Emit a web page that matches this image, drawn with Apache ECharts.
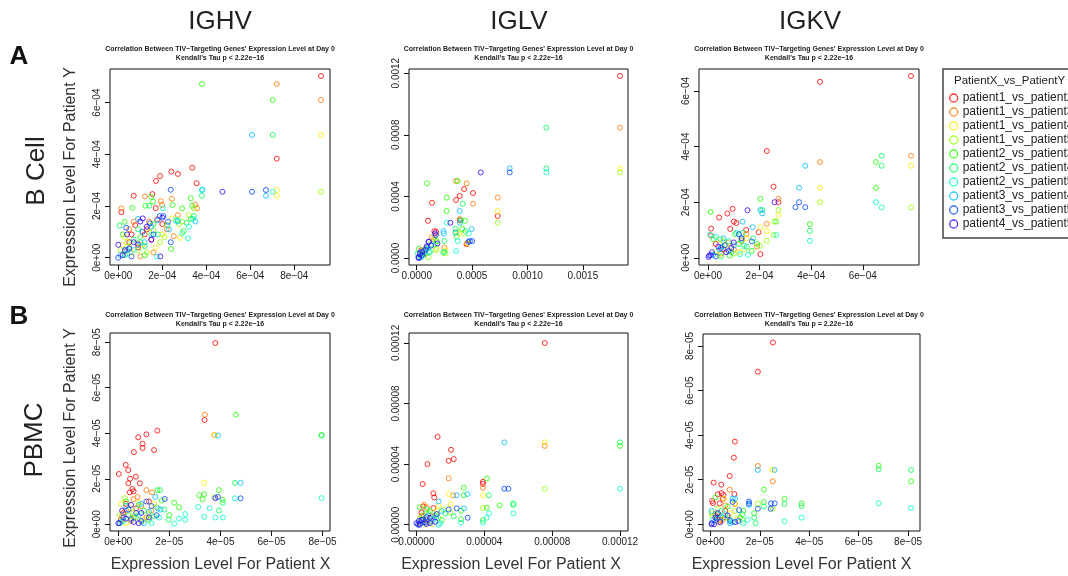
<!DOCTYPE html>
<html>
<head>
<meta charset="utf-8">
<script src="https://cdn.jsdelivr.net/npm/echarts@6/dist/echarts.min.js"></script>
<style>html,body{margin:0;padding:0;background:#fff;}#chart{width:1068px;height:576px;}</style>
</head>
<body>
<div id="chart"></div>
<script>
// ---------------- DATA ----------------
const seriesNames = ['patient1_vs_patient2','patient1_vs_patient3','patient1_vs_patient4','patient1_vs_patient5',
  'patient2_vs_patient3','patient2_vs_patient4','patient2_vs_patient5','patient3_vs_patient4','patient3_vs_patient5','patient4_vs_patient5'];
const columnHeaders = ['IGHV','IGLV','IGKV'];
const rowHeaders = ['B Cell','PBMC'];
const titleLine1 = 'Correlation Between TIV\u2212Targeting Genes\' Expression Level at Day 0';
const titleLine2 = ['Kendall\'s Tau p < 2.22e\u221216','Kendall\'s Tau p < 2.22e\u221216','Kendall\'s Tau p < 2.22e\u221216',
  'Kendall\'s Tau p < 2.22e\u221216','Kendall\'s Tau p < 2.22e\u221216','Kendall\'s Tau p = 2.22e\u221216'];

// B cell IGHV, values in units of 1e-4 : [patientX, patientY], one list per series
const bCellIGHV = [
  [[9.21,7.03],[7.2,3.83],[3.36,3.48],[2.41,3.33],[2.71,3.24],[1.9,3.16],[1.71,2.97],[3.56,2.88],[0.7,2.4],[1.55,2.46],[1.7,1.92],[0.14,1.76],[0.77,1.26],[1.77,1.48],[1.2,0.9],[0.5,0.6],[0.9,0.4],[1.5,0.7],[0.3,0.25],[1.3,1.1],[2.0,1.3],[0.6,0.9]],
  [[7.2,6.72],[9.21,6.1],[1.21,2.37],[2.43,2.28],[1.93,2.19],[1.99,2.04],[0.14,1.91],[3.58,1.91],[2.71,1.65],[0.7,1.39],[2.52,0.83],[3.5,2.05],[1.4,1.4],[0.9,0.55],[1.6,0.2],[0.5,1.1],[2.2,1.1],[1.0,0.05]],
  [[9.21,4.75],[7.2,2.62],[7.2,2.4],[2.45,1.52],[2.8,0.77],[0.3,0.8],[1.1,0.5],[1.7,0.4],[0.6,0.2],[1.4,1.0],[2.0,0.9],[0.2,0.5]],
  [[9.21,2.55],[3.44,1.91],[3.21,1.65],[2.76,1.29],[0.4,0.6],[0.9,0.3],[1.6,1.05],[1.3,0.2],[2.1,0.8],[0.1,0.3],[2.9,1.4],[1.9,0.6]],
  [[3.8,6.72],[7.02,6.1],[3.29,2.3],[1.49,2.36],[1.58,2.17],[1.23,2.01],[2.47,2.04],[3.35,2.01],[0.64,1.93],[2.9,1.91],[0.29,1.39],[2.23,1.26],[2.97,1.03],[2.4,0.34],[1.0,0.8],[0.5,0.4],[1.6,1.3],[0.2,0.9],[1.2,0.1],[3.3,1.5]],
  [[7.02,4.75],[3.8,2.4],[1.41,2.01],[3.44,1.61],[0.06,1.24],[0.7,0.7],[1.8,0.9],[2.7,1.45],[1.2,0.45],[0.3,0.1],[3.1,1.35],[0.9,1.1]],
  [[7.02,2.55],[3.8,2.62],[3.21,1.2],[3.17,0.75],[1.75,0.05],[2.03,1.91],[0.4,0.15],[1.0,0.6],[3.4,1.5],[2.6,1.45],[1.5,0.9],[0.7,0.3],[2.9,0.95]],
  [[6.08,4.75],[6.71,2.4],[3.82,2.63],[0.9,1.5],[1.5,1.2],[2.3,1.1],[0.4,0.3],[1.2,0.6],[2.7,1.4],[0.1,0.1],[1.8,1.45],[3.5,1.4]],
  [[6.08,2.55],[6.71,2.62],[2.38,2.63],[1.88,1.61],[2.05,1.61],[1.43,1.33],[2.26,1.39],[2.38,0.6],[0.36,1.16],[0.3,0.3],[0.9,0.5],[0.0,0.0],[1.1,1.0],[0.6,0.05],[1.6,0.9]],
  [[4.73,2.55],[1.11,1.52],[1.91,0.05],[0.0,0.5],[0.4,0.9],[0.7,0.6],[1.3,1.2],[1.0,1.4],[0.2,0.1],[1.5,0.7],[0.5,0.35],[2.0,1.55]]
];
// B cell IGLV, units of 1e-4
const bCellIGLV = [
  [[18.35,11.82],[4.27,4.48],[5.08,4.22],[3.88,4.03],[3.55,3.77],[1.38,3.59],[7.31,2.73],[1.02,2.42],[1.6,1.75],[1.75,1.7],[4.5,0.9],[0.4,0.5],[0.8,0.3],[3.9,2.45]],
  [[18.35,8.46],[3.55,5.0],[4.51,4.85],[5.08,3.53],[7.31,3.92],[3.88,2.53],[1.35,1.34],[2.5,0.67],[4.55,0.95],[1.5,1.2],[0.6,0.5],[0.9,0.7]],
  [[18.35,5.82],[7.31,3.05],[4.57,0.99],[2.6,0.5],[1.8,0.6],[3.8,1.6],[0.5,0.3],[1.2,0.9]],
  [[18.35,5.56],[7.31,2.29],[1.06,0.05],[1.74,0.52],[3.6,1.7],[4.3,1.6],[0.3,0.1],[1.6,1.3],[2.6,0.3]],
  [[0.93,4.85],[3.7,5.0],[2.71,3.92],[2.71,3.05],[4.35,2.42],[2.4,0.35],[1.8,1.1],[3.6,1.4],[0.2,0.6],[0.8,0.55],[4.1,1.9]],
  [[11.7,8.46],[11.7,5.82],[4.15,3.53],[4.0,2.45],[3.5,1.9],[4.4,1.75],[0.6,0.2],[1.2,0.4],[2.5,1.1],[0.1,0.3],[1.7,0.9]],
  [[11.7,5.56],[2.71,2.29],[3.55,0.45],[4.7,1.6],[3.7,1.1],[0.2,0.05],[0.9,0.6],[1.1,0.35],[2.5,0.4],[0.4,0.15]],
  [[8.39,5.82],[3.88,3.05],[3.9,2.29],[4.96,1.88],[2.41,1.75],[2.45,1.6],[3.5,1.65],[0.7,0.4],[1.3,0.85],[0.4,0.05],[1.0,0.7]],
  [[8.39,5.56],[1.74,1.49],[4.8,1.1],[5.0,1.1],[1.06,1.06],[1.3,0.8],[0.5,0.2],[0.3,0.35],[0.8,0.55],[4.65,1.05]],
  [[5.78,5.56],[3.04,2.29],[1.87,0.95],[1.65,1.6],[0.15,0.05],[0.5,0.4],[0.3,0.25],[0.9,0.75],[1.1,1.05],[0.2,0.0]]
];
// B cell IGKV, units of 1e-4
const bCellIGKV = [
  [[7.87,6.54],[4.34,6.33],[2.28,3.84],[2.54,2.56],[2.73,2.0],[2.03,0.13],[0.95,1.76],[0.75,1.59],[0.43,1.45],[1.0,1.3],[1.1,1.25],[0.86,1.04],[1.48,1.0],[1.96,0.92],[0.12,1.05],[0.12,0.8],[0.3,0.5],[0.6,0.3]],
  [[4.34,3.44],[7.87,3.67],[2.73,2.12],[2.28,1.22],[1.48,0.86],[1.9,0.4],[0.8,0.55],[1.0,0.3],[0.5,0.15],[1.3,0.6]],
  [[7.87,3.31],[4.34,2.52],[2.73,1.53],[2.03,1.09],[2.28,0.96],[0.9,0.35],[1.2,0.2],[0.4,0.1],[1.5,0.7],[0.7,0.45]],
  [[7.87,1.81],[4.34,2.0],[2.73,1.72],[2.56,1.3],[2.54,0.82],[2.01,0.43],[2.28,0.61],[1.0,0.15],[0.3,0.2],[1.4,0.3],[0.6,0.6]],
  [[6.51,3.44],[6.51,2.52],[2.03,2.12],[0.1,1.65],[2.64,1.3],[3.95,1.21],[0.22,0.67],[0.48,0.67],[1.2,0.5],[1.7,0.25],[0.84,0.08],[1.9,0.5],[1.05,0.85]],
  [[6.73,3.67],[6.73,3.31],[3.95,0.97],[2.1,1.72],[1.3,0.65],[0.9,0.2],[1.5,0.4],[0.5,0.05],[1.75,0.7],[1.35,0.9]],
  [[6.51,2.0],[6.73,1.81],[3.95,0.61],[2.64,0.82],[0.08,0.83],[1.4,0.43],[1.24,0.13],[0.3,0.75],[0.8,0.6],[1.55,0.1],[1.1,0.9],[0.55,0.4]],
  [[3.77,3.31],[3.53,2.52],[2.03,1.72],[1.34,1.3],[1.73,1.1],[0.6,0.7],[0.2,0.1],[1.0,0.45],[2.1,1.6],[0.45,0.3]],
  [[3.53,2.0],[3.39,1.82],[3.77,1.82],[1.7,0.59],[0.5,0.35],[0.8,0.25],[0.1,0.1],[0.3,0.05],[1.2,0.85],[0.65,0.45]],
  [[2.58,2.0],[1.53,1.71],[0.02,0.03],[0.9,0.35],[0.7,0.2],[1.3,0.7],[0.4,0.4],[0.15,0.2],[1.0,0.55],[0.05,0.08]]
];
// PBMC IGHV, units of 1e-5
const pbmcIGHV = [
  [[3.8,7.96],[3.38,4.58],[1.53,4.11],[1.1,3.95],[0.78,3.82],[0.95,3.54],[0.95,3.35],[1.4,3.26],[0.61,3.17],[0.29,2.61],[0.39,2.38],[0.02,2.21],[0.69,2.09],[0.46,2.0],[0.84,1.8],[0.39,1.8],[0.55,1.55],[0.45,1.4],[0.6,1.45],[0.3,0.9],[0.2,0.5],[0.7,0.7],[0.1,0.2],[0.5,0.25],[1.2,1.0]],
  [[3.39,4.81],[3.76,3.92],[1.1,1.5],[1.32,1.4],[0.6,1.1],[0.9,0.8],[0.3,0.6],[1.1,0.3],[0.5,0.15],[0.75,1.2],[1.3,0.6],[0.15,0.35]],
  [[3.77,3.92],[3.37,1.82],[0.1,0.9],[0.6,0.5],[1.0,0.2],[0.3,0.05],[1.4,0.9],[0.8,0.95]],
  [[3.76,1.2],[0.25,1.15],[0.5,0.7],[1.2,0.45],[0.9,0.1],[0.05,0.4],[1.5,0.75],[0.7,0.3]],
  [[4.6,4.81],[7.96,3.92],[3.94,1.5],[3.17,1.28],[3.37,1.32],[1.53,1.5],[2.19,0.95],[2.38,0.75],[2.0,0.4],[4.09,1.07],[3.3,1.1],[0.3,1.0],[1.0,0.6],[0.6,0.3],[1.7,1.05],[1.2,0.2]],
  [[4.57,1.82],[7.96,3.9],[1.63,1.5],[4.09,0.95],[3.94,0.6],[1.97,0.2],[1.8,0.65],[0.4,0.4],[0.8,0.85],[1.4,0.35],[0.1,0.1]],
  [[7.96,1.15],[4.57,1.14],[3.13,0.76],[3.57,0.7],[3.37,0.33],[3.8,0.3],[4.1,0.3],[2.62,0.45],[2.62,0.2],[2.38,0.25],[2.19,0.03],[1.3,0.05],[0.8,0.4],[1.6,0.3],[0.2,0.15]],
  [[3.9,3.9],[4.79,1.82],[1.55,0.7],[1.65,0.65],[0.9,0.9],[1.2,0.55],[0.5,0.2],[0.3,0.8],[1.0,0.05],[1.45,1.2]],
  [[4.79,1.14],[3.9,1.2],[1.82,1.11],[1.3,0.8],[0.7,0.5],[0.2,0.3],[1.5,0.4],[0.9,0.15],[0.4,0.65],[1.1,1.0],[0.05,0.05]],
  [[3.8,1.15],[0.0,0.05],[0.3,0.25],[0.6,0.1],[0.9,0.5],[0.5,0.85],[1.2,0.3],[0.15,0.6],[0.8,0.05]]
];
// PBMC IGLV, units of 1e-5
const pbmcIGLV = [
  [[7.56,11.99],[1.25,5.8],[2.04,4.94],[2.2,4.33],[1.9,4.22],[0.65,4.0],[0.37,2.68],[3.92,2.83],[3.92,2.7],[1.0,2.07],[1.05,1.8],[0.4,1.2],[1.0,1.1],[0.3,0.8],[0.6,0.3],[0.2,0.1],[0.9,0.55]],
  [[7.56,5.2],[1.9,3.06],[3.92,2.44],[2.16,1.94],[0.6,1.15],[0.3,0.6],[1.2,0.7],[0.8,0.2],[0.45,1.3]],
  [[7.56,5.43],[1.9,2.02],[3.92,1.94],[2.02,1.34],[1.31,1.25],[1.2,0.9],[0.5,0.4],[0.9,0.05]],
  [[7.56,2.37],[3.92,1.1],[1.3,0.45],[0.7,0.8],[0.2,0.4],[1.6,1.0],[2.0,0.8],[0.5,0.05]],
  [[11.99,5.2],[4.16,3.06],[2.79,2.44],[2.79,1.94],[4.9,1.28],[4.15,1.12],[2.63,0.92],[2.63,0.36],[3.92,0.31],[0.8,0.9],[0.2,1.15],[1.5,0.3],[0.4,0.6]],
  [[11.99,5.43],[4.27,1.94],[5.71,1.4],[5.71,1.3],[1.1,0.6],[0.3,0.3],[1.7,0.75],[0.6,1.0],[2.2,0.55]],
  [[11.99,2.37],[4.28,0.75],[5.71,0.75],[4.14,0.46],[3.92,0.14],[2.63,0.14],[1.4,0.1],[0.5,0.2],[1.0,0.35],[1.3,0.0],[0.1,0.05]],
  [[5.18,5.43],[2.37,1.94],[3.0,2.02],[2.8,1.08],[1.31,1.54],[1.18,0.5],[0.7,0.6],[0.3,0.15],[1.5,0.9],[0.9,0.25]],
  [[5.18,2.37],[5.42,2.37],[2.37,1.08],[3.02,0.46],[1.9,1.0],[0.4,0.35],[0.8,0.1],[1.2,0.7],[0.1,0.0],[0.6,0.5]],
  [[0.0,0.1],[0.2,0.0],[0.5,0.15],[0.8,0.45],[0.3,0.3],[1.1,0.2],[0.6,0.05],[0.15,0.25]]
];
// PBMC IGKV, units of 1e-5
const pbmcIGKV = [
  [[2.53,8.16],[1.92,6.85],[0.99,3.71],[0.95,2.99],[0.78,2.17],[0.13,1.87],[0.44,1.78],[0.3,1.35],[0.45,1.4],[0.53,1.32],[0.97,1.36],[0.07,1.05],[0.1,0.95],[0.37,0.94],[0.5,1.15],[0.6,0.6],[0.2,0.4],[0.4,0.2]],
  [[1.92,2.62],[2.52,1.93],[0.78,1.56],[0.6,0.85],[0.4,0.35],[0.5,0.2],[0.25,0.5],[1.0,0.9],[0.7,0.3],[0.35,0.1]],
  [[2.5,2.44],[1.0,0.95],[0.55,1.15],[0.3,0.15],[0.8,0.5],[1.1,0.25]],
  [[1.92,0.93],[2.52,0.7],[0.08,0.4],[0.05,0.5],[0.6,0.3],[1.0,0.6],[0.3,0.7],[1.3,0.2]],
  [[6.81,2.63],[8.12,1.93],[2.16,1.56],[2.16,1.0],[3.0,1.14],[3.69,0.94],[1.33,0.61],[1.77,0.5],[0.2,1.2],[0.7,0.8],[0.3,0.3],[1.2,0.3]],
  [[6.81,2.47],[8.12,2.44],[2.16,0.8],[3.0,0.91],[3.69,0.82],[1.77,0.3],[1.83,0.05],[1.3,0.45],[0.8,0.2],[0.45,0.6]],
  [[6.81,0.95],[8.12,0.73],[3.0,0.14],[3.69,0.3],[1.33,0.05],[0.3,0.45],[0.9,0.1],[0.1,0.2],[0.6,0.45],[1.5,0.2]],
  [[1.92,2.44],[2.6,2.44],[0.9,1.15],[1.0,1.15],[1.56,0.87],[0.05,0.6],[0.5,0.3],[0.8,0.05],[0.2,0.15]],
  [[1.56,1.02],[1.56,0.93],[2.45,0.94],[2.6,0.94],[2.44,0.7],[1.92,0.7],[1.16,0.64],[0.9,1.0],[0.8,0.15],[0.26,0.25],[1.13,0.15],[0.05,0.0]],
  [[0.15,0.0],[0.05,0.05],[0.4,0.1],[0.3,0.5],[0.7,0.4],[1.0,0.1],[0.2,0.3]]
];
// tick values (in the panel's units)
const ticksIGHVbX = [0,2,4,6,8], ticksIGHVbY = [0,2,4,6];
const ticksIGLVbX = [0,5,10,15], ticksIGLVbY = [0,4,8,12];
const ticksIGKVbX = [0,2,4,6], ticksIGKVbY = [0,2,4,6];
const ticksIGHVpX = [0,2,4,6,8], ticksIGHVpY = [0,2,4,6,8];
const ticksIGLVpX = [0,4,8,12], ticksIGLVpY = [0,4,8,12];
const ticksIGKVpX = [0,2,4,6,8], ticksIGKVpY = [0,2,4,6,8];

// ---------------- STYLE / LAYOUT ----------------
const colors = ['#FF0000','#FF7700','#FFEE00','#99FF00','#22FF00','#00FF55','#00FFCC','#00BBFF','#0044FF','#3300FF'];
const FONT = '"Liberation Sans", Arial, Helvetica, sans-serif';
const sci = exp => v => v === 0 ? '0e+00' : (v + 'e\u2212' + exp);
const fixed = (unit, d) => v => (v * unit).toFixed(d);

const panels = [
  {data: bCellIGHV, box:[110,69,220,196], xr:[-0.377,9.62], yr:[-0.282,7.30], xt:ticksIGHVbX, yt:ticksIGHVbY, fx:sci('04'), fy:sci('04'), tc:220, ty:49},
  {data: bCellIGLV, box:[409,69,219,196], xr:[-0.695,19.07], yr:[-0.45,12.27], xt:ticksIGLVbX, yt:ticksIGLVbY, fx:fixed(1e-4,4), fy:fixed(1e-4,4), tc:518.5, ty:49},
  {data: bCellIGKV, box:[699,69,220,196], xr:[-0.35,8.18], yr:[-0.26,6.79], xt:ticksIGKVbX, yt:ticksIGKVbY, fx:sci('04'), fy:sci('04'), tc:809, ty:49},
  {data: pbmcIGHV, box:[110,333,220,198], xr:[-0.325,8.29], yr:[-0.294,8.40], xt:ticksIGHVpX, yt:ticksIGHVpY, fx:sci('05'), fy:sci('05'), tc:220, ty:315},
  {data: pbmcIGLV, box:[409,333,219,198], xr:[-0.436,12.465], yr:[-0.415,12.65], xt:ticksIGLVpX, yt:ticksIGLVpY, fx:fixed(1e-5,5), fy:fixed(1e-5,5), tc:518.5, ty:315},
  {data: pbmcIGKV, box:[703,334,217,197], xr:[-0.3,8.48], yr:[-0.3,8.54], xt:ticksIGKVpX, yt:ticksIGKVpY, fx:sci('05'), fy:sci('05'), tc:809, ty:315}
];

const grid = [], xAxis = [], yAxis = [], series = [], graphic = [];
panels.forEach((p, i) => {
  grid.push({left:p.box[0], top:p.box[1], width:p.box[2], height:p.box[3], show:true, borderColor:'#111', borderWidth:1, backgroundColor:'transparent', containLabel:false});
  const common = {type:'value', gridIndex:i, splitLine:{show:false}, axisLine:{show:false, onZero:false}, scale:true};
  xAxis.push(Object.assign({}, common, {position:'bottom', min:p.xr[0], max:p.xr[1],
    axisTick:{show:true, length:5, inside:false, lineStyle:{color:'#111', width:1}, customValues:p.xt},
    axisLabel:{customValues:p.xt, formatter:p.fx, fontSize:10, color:'#222', fontFamily:FONT, margin:6, showMinLabel:true, showMaxLabel:true, hideOverlap:false}}));
  yAxis.push(Object.assign({}, common, {position:'left', min:p.yr[0], max:p.yr[1],
    axisTick:{show:true, length:5, inside:false, lineStyle:{color:'#111', width:1}, customValues:p.yt},
    axisLabel:{customValues:p.yt, formatter:p.fy, fontSize:10, color:'#222', fontFamily:FONT, margin:8, rotate:90, showMinLabel:true, showMaxLabel:true, hideOverlap:false}}));
  p.data.forEach((pts, k) => {
    series.push({type:'scatter', name:seriesNames[k], xAxisIndex:i, yAxisIndex:i, data:pts,
      symbol:'circle', symbolSize:5, clip:false,
      itemStyle:{color:'rgba(0,0,0,0)', borderColor:colors[k], borderWidth:1},
      emphasis:{disabled:true}, silent:true});
  });
  graphic.push({type:'text', x:p.tc, y:p.ty, style:{text:titleLine1, font:'bold 7px '+FONT, fill:'#222', textAlign:'center', textVerticalAlign:'middle', align:'center', verticalAlign:'middle'}});
  graphic.push({type:'text', x:p.tc, y:p.ty+9.5, style:{text:titleLine2[i], font:'bold 7px '+FONT, fill:'#222', textAlign:'center', textVerticalAlign:'middle', align:'center', verticalAlign:'middle'}});
});

function txt(t, x, y, font, rot, fill, align) {
  return {type:'text', x:x, y:y, rotation:rot||0, style:{text:t, font:font, fill:fill||'#222',
    textAlign:align||'center', textVerticalAlign:'middle', align:align||'center', verticalAlign:'middle'}};
}
const hdrX = [220, 519, 810];
columnHeaders.forEach((h, j) => graphic.push(txt(h, hdrX[j], 22, '26px '+FONT)));
graphic.push(txt('A', 19, 57, 'bold 26px '+FONT, 0, '#111'));
graphic.push(txt('B', 19, 317, 'bold 26px '+FONT, 0, '#111'));
graphic.push(txt(rowHeaders[0], 37, 171, '26px '+FONT, Math.PI/2));
graphic.push(txt(rowHeaders[1], 35, 440, '26px '+FONT, Math.PI/2));
graphic.push(txt('Expression Level For Patient Y', 71, 177, '16px '+FONT, Math.PI/2, '#333'));
graphic.push(txt('Expression Level For Patient Y', 71, 438, '16px '+FONT, Math.PI/2, '#333'));
[220.5, 511, 801.5].forEach(cx => graphic.push(txt('Expression Level For Patient X', cx, 565, '16px '+FONT, 0, '#333')));
// legend frame and title
graphic.push({type:'rect', shape:{x:943, y:69, width:150, height:169}, style:{fill:'none', stroke:'#444', lineWidth:1.5}});
graphic.push(txt('PatientX_vs_PatientY', 954, 80.5, '11.5px '+FONT, 0, '#222', 'left'));

const chart = echarts.init(document.getElementById('chart'), null, {renderer:'canvas'});
chart.setOption({
  animation:false,
  backgroundColor:'#fff',
  grid:grid, xAxis:xAxis, yAxis:yAxis, series:series, graphic:graphic,
  legend:{orient:'vertical', left:949, top:92, padding:0, itemWidth:8, itemHeight:8, itemGap:2, icon:'circle', selectedMode:false,
    textStyle:{fontSize:12, color:'#222', fontFamily:FONT, lineHeight:12},
    data:seriesNames.map((n, k) => ({name:n, itemStyle:{color:'rgba(0,0,0,0)', borderColor:colors[k], borderWidth:1.3}}))}
});
</script>
</body>
</html>
